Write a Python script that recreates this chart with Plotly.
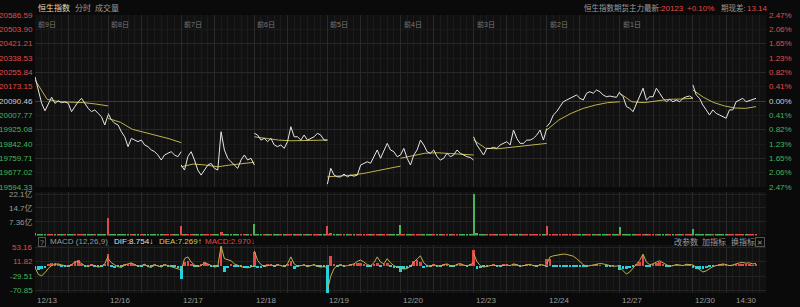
import plotly.graph_objects as go

# ---------------- data ----------------
DAY_MIN = 330          # trading minutes per day (09:30-12:00, 13:00-16:00)
STEP = 15              # sample step in minutes
dates = ["12/13", "12/16", "12/17", "12/18", "12/19", "12/20", "12/23", "12/24", "12/27", "12/30"]
day_heads = ["前9日", "前8日", "前7日", "前6日", "前5日", "前4日", "前3日", "前2日", "前1日", ""]
prev_close = 20090.46
price_ticks = [20586.59, 20503.90, 20421.21, 20338.53, 20255.84, 20173.15, 20090.46,
               20007.77, 19925.08, 19842.40, 19759.71, 19677.02, 19594.33]
pct_labels = ["2.47%", "2.06%", "1.65%", "1.23%", "0.82%", "0.41%", "0.00%",
              "0.41%", "0.82%", "1.23%", "1.65%", "2.06%", "2.47%"]
vol_ticks = [22.1, 14.7, 7.36]
vol_labels = ["22.1亿", "14.7亿", "7.36亿"]
macd_ticks = [53.16, 11.82, -29.51, -70.85]

price = [
    [20230, 20154, 20077, 20034, 20077, 20112, 20077, 20092, 20081, 20086, 20077, 20029,
     20058, 20086, 20106, 20077, 20048, 20029, 20039, 20019, 20000, 19952, 20010],
    [20019, 19981, 19962, 19952, 19913, 19884, 19827, 19875, 19865, 19856, 19865, 19837,
     19827, 19808, 19798, 19779, 19750, 19779, 19789, 19798, 19779, 19769, 19798],
    [19721, 19692, 19769, 19798, 19750, 19692, 19663, 19692, 19721, 19731, 19702, 19692,
     19913, 19808, 19760, 19740, 19721, 19702, 19750, 19779, 19750, 19760, 19721],
    [19904, 19894, 19865, 19875, 19856, 19875, 19837, 19827, 19837, 19817, 19856, 19942,
     19884, 19884, 19865, 19894, 19865, 19875, 19884, 19904, 19894, 19865, 19865],
    [19611, 19702, 19663, 19653, 19653, 19669, 19653, 19663, 19657, 19663, 19721, 19731,
     19740, 19731, 19769, 19808, 19760, 19808, 19846, 19808, 19798, 19769, 19779],
    [19779, 19817, 19760, 19721, 19779, 19808, 19865, 19837, 19798, 19789, 19808, 19769,
     19750, 19760, 19789, 19769, 19779, 19808, 19789, 19779, 19769, 19765, 19750],
    [19884, 19837, 19808, 19779, 19817, 19817, 19823, 19817, 19837, 19846, 19856, 19837,
     19923, 19875, 19846, 19846, 19865, 19865, 19875, 19894, 19923, 19865, 19932],
    [19942, 19965, 20010, 20029, 20058, 20086, 20096, 20106, 20115, 20125, 20106, 20096,
     20135, 20144, 20135, 20154, 20144, 20125, 20115, 20119, 20115, 20112, 20144],
    [20135, 20115, 20058, 20048, 20029, 20077, 20115, 20164, 20096, 20115, 20115, 20164,
     20135, 20106, 20086, 20100, 20086, 20096, 20086, 20106, 20115, 20119, 20106],
    [20183, 20125, 20106, 20067, 20039, 20010, 20039, 20019, 20010, 20000, 19991, 20039,
     20039, 20086, 20096, 20106, 20086, 20092, 20096, 20106],
]

avg = [
    [20212, 20100, 20086, 20085, 20081, 20073, 20062],
    [19990, 19968, 19927, 19908, 19893, 19873, 19850],
    [19711, 19727, 19721, 19711, 19721, 19731, 19737],
    [19884, 19875, 19865, 19861, 19861, 19863, 19865],
    [19653, 19657, 19663, 19673, 19687, 19700, 19715],
    [19760, 19773, 19789, 19792, 19789, 19785, 19779],
    [19865, 19817, 19815, 19823, 19831, 19837, 19846],
    [19923, 19981, 20019, 20048, 20067, 20081, 20086],
    [20135, 20086, 20081, 20092, 20100, 20102, 20106],
    [20154, 20112, 20081, 20062, 20050, 20048, 20058],
]

open_up = [False, True, True, False, True, False, False, True, False, False]
volume = [
    [1.5, 0.7, 0.6, 0.5, 0.6, 0.5, 0.5, 0.4, 0.5, 0.4, 0.5, 0.6, 0.5, 0.4, 0.4, 0.5, 0.4, 0.4, 0.5, 0.4, 0.5, 0.6, 0.8],
    [8.6, 0.9, 0.7, 0.6, 0.6, 0.5, 0.6, 0.5, 0.5, 0.4, 0.5, 0.5, 0.4, 0.4, 0.4, 0.5, 0.4, 0.4, 0.4, 0.4, 0.5, 0.5, 0.7],
    [4.3, 0.8, 0.7, 0.6, 0.5, 0.5, 0.4, 0.4, 0.4, 0.4, 0.4, 0.5, 1.8, 0.7, 0.5, 0.4, 0.4, 0.4, 0.4, 0.4, 0.4, 0.5, 0.6],
    [5.4, 0.9, 0.7, 0.6, 0.5, 0.4, 0.4, 0.4, 0.4, 0.4, 0.4, 0.6, 0.5, 0.4, 0.4, 0.4, 0.4, 0.4, 0.4, 0.4, 0.4, 0.5, 0.6],
    [4.3, 1.1, 0.7, 0.6, 0.5, 0.5, 0.4, 0.4, 0.4, 0.4, 0.5, 0.5, 0.4, 0.4, 0.5, 0.6, 0.4, 0.4, 0.5, 0.4, 0.4, 0.5, 0.7],
    [4.8, 0.9, 0.7, 0.6, 0.6, 0.5, 0.6, 0.5, 0.4, 0.4, 0.4, 0.4, 0.4, 0.4, 0.4, 0.4, 0.4, 0.4, 0.4, 0.4, 0.4, 0.5, 0.6],
    [21.5, 1.2, 0.8, 0.7, 0.6, 0.5, 0.5, 0.5, 0.5, 0.4, 0.5, 0.5, 0.7, 0.5, 0.4, 0.4, 0.4, 0.4, 0.4, 0.5, 0.5, 0.5, 0.7],
    [4.3, 1.0, 0.8, 0.7, 0.6, 0.6, 0.5, 0.5, 0.5, 0.4, 0.4, 0.4, 0.5, 0.4, 0.4, 0.4, 0.4, 0.4, 0.4, 0.4, 0.4, 0.4, 0.6],
    [3.7, 0.9, 0.7, 0.6, 0.6, 0.5, 0.5, 0.6, 0.4, 0.4, 0.4, 0.5, 0.4, 0.4, 0.4, 0.4, 0.4, 0.4, 0.4, 0.4, 0.4, 0.4, 0.6],
    [2.9, 0.8, 0.7, 0.6, 0.6, 0.5, 0.5, 0.4, 0.4, 0.4, 0.4, 0.5, 0.4, 0.5, 0.4, 0.4, 0.4, 0.4, 0.4, 0.4],
]

dif = [
    [-5, -25, -29, -20, -8, 0, 4, 5, 2, 0, -2, 3, 10, 12, 5, 0, -3, 2, 0, -4, -2, 5, 27],
    [20, 8, 2, -3, -5, 2, 5, 8, 3, -2, 0, 4, -3, -5, 2, 0, -4, 3, 0, -2, -5, -8, -12],
    [-15, 20, 25, 10, 2, -3, 0, 8, 5, 0, -4, -2, 56, 20, 16, 14, 5, 0, -3, -5, -6, -4, 0],
    [42, 15, 3, -2, 0, 2, -1, 3, 0, -3, 5, 25, 5, -2, 0, 2, -3, 0, 3, -2, -4, -3, -5],
    [-70, -30, -8, 0, 2, -2, 0, 3, 5, 12, 16, 10, 3, 0, 8, 25, 10, 5, 20, 8, 0, -4, -6],
    [-6, -10, -8, -2, 10, 20, 28, 8, 0, -3, 2, 0, -2, 3, 5, 0, -2, 4, 6, 2, -1, 3, 8],
    [35, 12, 0, -4, -2, 0, 2, -1, 0, 3, 2, 0, 5, 3, -2, 0, 2, 4, 0, -2, 3, 2, -3],
    [5, 25, 28, 30, 32, 33, 32, 30, 27, 20, 12, 3, -2, 0, 2, 4, 6, 5, 3, 0, -2, -1, 0],
    [-5, -15, -24, -18, -8, 5, 15, 33, 10, 3, 5, 10, 14, 8, 2, -2, 0, 3, 2, 0, 4, 3, 2],
    [2, -5, -12, -18, -15, -8, -3, 0, 2, 5, 3, 0, 2, 6, 8, 9, 7, 8, 5, 6],
]

hist = [
    [-10, -12, -10, -6, 6, 8, 7, 3, -2, -3, -4, 4, 12, 15, 3, -3, -4, 2, -2, -3, -2, 4, 20],
    [12, -5, -6, -4, -3, 3, 5, 8, 2, -3, -2, 4, -4, -5, 2, 1, -4, 3, -2, -3, -5, -8, -15],
    [-24, 10, 12, 4, -2, -3, 2, 10, 3, -2, -4, -3, 53, -18, -6, 3, -2, -3, -4, -8, -8, -5, -2],
    [39, -8, -6, -3, 2, 3, -2, 3, -1, -3, 4, 14, -10, -4, 1, 2, -3, 1, 3, -2, -4, -3, -4],
    [-73, 28, 5, -2, 2, -3, 0, 2, 4, 8, 7, 3, -2, -3, 5, 8, -3, 2, 7, -3, -8, -8, -6],
    [-12, -10, -8, -4, 12, 16, 10, -8, -4, -3, 2, -2, -2, 3, 4, -2, -3, 4, 5, 1, -2, 3, 5],
    [39, -10, -8, -5, -3, 1, 2, -2, -2, 2, 2, -1, 4, 2, -3, -1, 2, 3, -1, -2, 2, 1, -5],
    [19, 18, -2, -3, -3, -2, -3, -3, -3, -3, -3, -3, -2, 1, 1, 2, 1, 0, -2, -2, -1, 0, -3],
    [-8, -10, -10, -8, -5, 4, 10, 30, -5, -3, 3, 8, 10, 4, -2, -3, -1, 2, 1, -1, 3, 2, 1],
    [-6, -9, -10, -10, -8, -4, -2, 1, 2, 5, 2, -1, 1, 3, 4, 4, 2, 3, 1, 2],
]

# ---------------- styling ----------------
W, H = 800, 307
BG = "#0a0a0a"
PLOT_BG = "#111111"
RED = "#e04a4a"
GREEN = "#45b55c"
GREY = "#9a9a9a"
YEL = "#bdb24e"
CYAN = "#27d0dc"
FONT = "Liberation Sans, Arial, Noto Sans CJK SC, sans-serif"
FS = 8

def py(px):  # pixel row -> paper fraction
    return 1 - px / H

def pxx(px):
    return px / W

n_days = len(dates)
total = n_days * DAY_MIN

# build series
px_x, px_y, av_x, av_y = [], [], [], []
vx, vy, vc, vw = [], [], [], []
mx, my, mc, dx, dy = [], [], [], [], []
for d in range(n_days):
    base = d * DAY_MIN
    p = price[d]
    for i, v in enumerate(p):
        px_x.append(base + i * STEP)
        px_y.append(v)
    px_x.append(None); px_y.append(None)
    span = (len(p) - 1) * STEP
    a = avg[d]
    for i, v in enumerate(a):
        av_x.append(base + i * span / (len(a) - 1))
        av_y.append(v)
    av_x.append(None); av_y.append(None)
    for i, v in enumerate(volume[d]):
        vx.append(base + i * STEP)
        vy.append(v)
        if i == 0:
            up = open_up[d]
            vw.append(5)
        else:
            up = p[i] >= p[i - 1]
            vw.append(13)
        vc.append(RED if up else GREEN)
    for i, v in enumerate(hist[d]):
        mx.append(base + i * STEP)
        my.append(v)
        mc.append(RED if v >= 0 else CYAN)
    for i, v in enumerate(dif[d]):
        dx.append(base + i * STEP)
        dy.append(v)
    dx.append(None); dy.append(None)

fig = go.Figure()
fig.add_trace(go.Scatter(x=av_x, y=av_y, mode="lines", line=dict(color=YEL, width=1),
                         xaxis="x", yaxis="y", hoverinfo="skip", connectgaps=False))
fig.add_trace(go.Scatter(x=px_x, y=px_y, mode="lines", line=dict(color="#e6e6e6", width=1),
                         xaxis="x", yaxis="y", hoverinfo="skip", connectgaps=False))
fig.add_trace(go.Bar(x=vx, y=vy, width=vw, marker=dict(color=vc, line=dict(width=0)),
                     xaxis="x", yaxis="y2"))
fig.add_trace(go.Bar(x=mx, y=my, width=[12] * len(mx), marker=dict(color=mc, line=dict(width=0)),
                     xaxis="x", yaxis="y3"))
fig.add_trace(go.Scatter(x=dx, y=dy, mode="lines", line=dict(color=YEL, width=1),
                         xaxis="x", yaxis="y3", connectgaps=False))

# grid positions
major_x = []
minor_x = []
for d in range(n_days + 1):
    major_x.append(d * DAY_MIN)
    if d < n_days:
        major_x.append(d * DAY_MIN + 150)
        for m in [30, 60, 90, 120, 180, 210, 240, 270, 300]:
            minor_x.append(d * DAY_MIN + m)

pmin, pmax = price_ticks[-1], price_ticks[0]
P_TOP, P_BOT = 15, 187
V_TOP, V_BOT = 192, 235.5
M_TOP, M_BOT = 245, 293
m_scale = (macd_ticks[0] - macd_ticks[-1]) / 43.5
m_range = [macd_ticks[-1] - (M_BOT - 290.5) * m_scale, macd_ticks[0] + (247 - M_TOP) * m_scale]
v_range = [0, vol_ticks[0] * (V_BOT - V_TOP) / (V_BOT - 194)]

fig.update_layout(
    width=W, height=H, margin=dict(l=0, r=0, t=0, b=0),
    paper_bgcolor=BG, plot_bgcolor=PLOT_BG, showlegend=False, bargap=0,
    font=dict(family=FONT, size=FS, color=GREY),
    xaxis=dict(domain=[pxx(35), pxx(766)], range=[0, total], anchor="y3",
               tickvals=major_x, showticklabels=False, ticks="", showgrid=True,
               gridcolor="#2a2a2a", gridwidth=1, zeroline=False, showline=False,
               minor=dict(tickvals=minor_x, showgrid=True, gridcolor="#1c1c1c", gridwidth=1, ticks="")),
    yaxis=dict(domain=[py(P_BOT), py(P_TOP)], range=[pmin, pmax], tickvals=price_ticks[::2],
               showticklabels=False, gridcolor="#282828", zeroline=False, ticks="",
               minor=dict(tickvals=price_ticks[1::2], showgrid=True, gridcolor="#1a1a1a", ticks="")),
    yaxis4=dict(overlaying="y", range=[(pmin / prev_close - 1) * 100, (pmax / prev_close - 1) * 100],
                showticklabels=False, showgrid=False, zeroline=True, zerolinecolor="#3a3a3a",
                zerolinewidth=1, side="right", anchor="x"),
    yaxis2=dict(domain=[py(V_BOT), py(V_TOP)], range=v_range, tickvals=vol_ticks,
                showticklabels=False, gridcolor="#222222", zeroline=False, ticks=""),
    yaxis3=dict(domain=[py(M_BOT), py(M_TOP)], range=m_range, tickvals=macd_ticks,
                showticklabels=False, gridcolor="#222222", zeroline=False, ticks=""),
)
# invisible trace to activate the percent axis
fig.add_trace(go.Scatter(x=[0], y=[0], mode="markers", marker=dict(opacity=0),
                         xaxis="x", yaxis="y4", hoverinfo="skip"))

ann = []
def A(text, x, y, xref="paper", yref="paper", xanchor="left", color=GREY, size=FS, **kw):
    ann.append(dict(text=text, x=x, y=y, xref=xref, yref=yref, xanchor=xanchor, yanchor="middle",
                    showarrow=False, font=dict(color=color, size=size, family=FONT), **kw))

# left / right price labels
for i, v in enumerate(price_ticks):
    c = RED if v > prev_close + 0.01 else (GREEN if v < prev_close - 0.01 else "#cfcfcf")
    A(f"{v:.2f}", pxx(35), v, yref="y", xanchor="right", color=c)
    A(pct_labels[i], pxx(767), v, yref="y", xanchor="left", color=c)
# volume labels
for v, t in zip(vol_ticks, vol_labels):
    A(t, pxx(35), v, yref="y2", xanchor="right", color=GREY)
# macd labels
for v in macd_ticks:
    A(f"{v:.2f}", pxx(35), v, yref="y3", xanchor="right", color=RED if v > 0 else GREEN)
# day headers and dates
for d in range(n_days):
    if day_heads[d]:
        A(day_heads[d], d * DAY_MIN, py(24), xref="x", color="#7a7a7a", size=7, xshift=1)
    A(dates[d], d * DAY_MIN, py(300), xref="x", color=GREY)
A("14:30", (n_days - 1) * DAY_MIN + 240, py(300), xref="x", xanchor="center", color=GREY)

# header
A("恒生指数", pxx(36), py(8), color="#e4ddb8")
A("分时", pxx(73), py(8), color=GREY)
A("成交量", pxx(93), py(8), color=GREY)
A("恒生指数期货主力最新:", pxx(582), py(8), color=GREY, size=7.5)
A("20123", pxx(659), py(8), color=RED)
A("+0.10%", pxx(685), py(8), color=RED)
A("期现差:", pxx(719), py(8), color=GREY, size=7.5)
A("13.14", pxx(745), py(8), color=RED)

# MACD header
MY = py(241.5)
A("?", pxx(41.5), MY, xanchor="center", color=GREY, size=7,
  bordercolor="#555555", borderwidth=1, borderpad=0, width=6, height=8)
A("MACD (12,26,9)", pxx(48), MY, color=GREY)
A("DIF:8.754↓", pxx(112), MY, color="#e0e0e0")
A("DEA:7.269↑", pxx(157), MY, color="#d8cb5c")
A("MACD:2.970↓", pxx(203), MY, color=RED)
A("改参数", pxx(672), MY, color=GREY)
A("加指标", pxx(700), MY, color=GREY)
A("换指标", pxx(729), MY, color=GREY)
A("✕", pxx(760), MY, xanchor="center", color=GREY, size=7,
  bordercolor="#555555", borderwidth=1, borderpad=0, width=8, height=8)

fig.update_layout(annotations=ann)
fig.write_html("out.html")
